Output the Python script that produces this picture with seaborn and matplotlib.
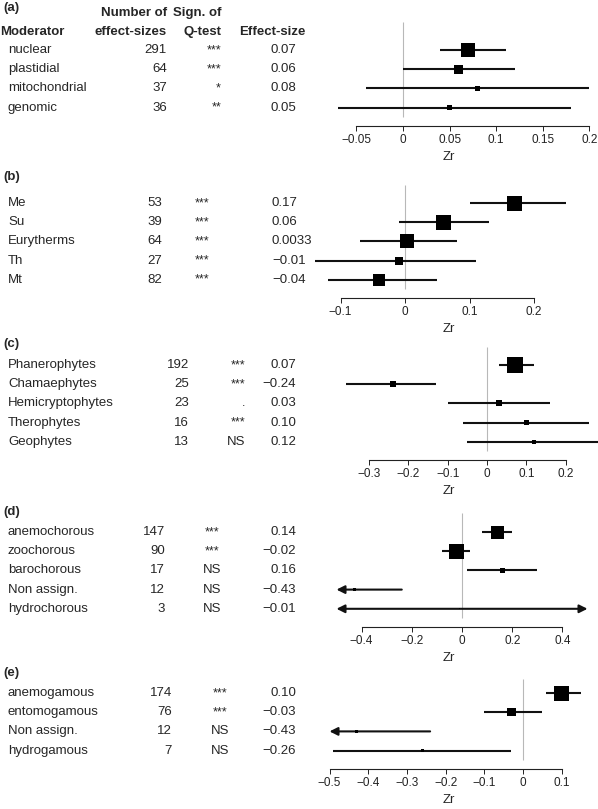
import numpy as np
import pandas as pd
import matplotlib
matplotlib.use('Agg')
import matplotlib.pyplot as plt
import matplotlib.transforms as mtransforms
import seaborn as sns

# (a) genome
mod_a = ['nuclear', 'plastidial', 'mitochondrial', 'genomic']
n_a = [291, 64, 37, 36]
sig_a = ['***', '***', '*', '**']
es_a = [0.07, 0.06, 0.08, 0.05]
eslab_a = ['0.07', '0.06', '0.08', '0.05']
lo_a = [0.04, 0.00, -0.04, -0.07]
hi_a = [0.11, 0.12, 0.20, 0.18]
w_a = [14, 9, 5, 5]

# (b) thermal groups
mod_b = ['Me', 'Su', 'Eurytherms', 'Th', 'Mt']
n_b = [53, 39, 64, 27, 82]
sig_b = ['***', '***', '***', '***', '***']
es_b = [0.17, 0.06, 0.0033, -0.01, -0.04]
eslab_b = ['0.17', '0.06', '0.0033', '−0.01', '−0.04']
lo_b = [0.10, -0.01, -0.07, -0.14, -0.12]
hi_b = [0.25, 0.13, 0.08, 0.11, 0.05]
w_b = [15, 15, 14, 8, 12]

# (c) life forms
mod_c = ['Phanerophytes', 'Chamaephytes', 'Hemicryptophytes', 'Therophytes', 'Geophytes']
n_c = [192, 25, 23, 16, 13]
sig_c = ['***', '***', '.', '***', 'NS']
es_c = [0.07, -0.24, 0.03, 0.10, 0.12]
eslab_c = ['0.07', '−0.24', '0.03', '0.10', '0.12']
lo_c = [0.03, -0.36, -0.10, -0.06, -0.05]
hi_c = [0.12, -0.13, 0.16, 0.26, 0.30]
w_c = [16, 6, 6, 5, 4.5]

# (d) dispersal
mod_d = ['anemochorous', 'zoochorous', 'barochorous', 'Non assign.', 'hydrochorous']
n_d = [147, 90, 17, 12, 3]
sig_d = ['***', '***', 'NS', 'NS', 'NS']
es_d = [0.14, -0.02, 0.16, -0.43, -0.01]
eslab_d = ['0.14', '−0.02', '0.16', '−0.43', '−0.01']
lo_d = [0.08, -0.08, 0.02, -0.70, -1.20]
hi_d = [0.20, 0.03, 0.30, -0.24, 1.20]
w_d = [13, 15, 5, 3, 1]

# (e) pollination
mod_e = ['anemogamous', 'entomogamous', 'Non assign.', 'hydrogamous']
n_e = [174, 76, 12, 7]
sig_e = ['***', '***', 'NS', 'NS']
es_e = [0.10, -0.03, -0.43, -0.26]
eslab_e = ['0.10', '−0.03', '−0.43', '−0.26']
lo_e = [0.06, -0.10, -0.70, -0.49]
hi_e = [0.15, 0.05, -0.24, -0.03]
w_e = [15, 8.5, 3, 2.5]

W, H = 598, 809
SP = 19.2  # row spacing in px

sns.set_theme(style='ticks')
plt.rcParams['font.family'] = ['Liberation Sans', 'DejaVu Sans']
plt.rcParams['font.size'] = 9.5


def fx(px):
    return px / W


def fy(py):
    return 1 - py / H


def mlab(v):
    s = f'{v:g}'
    return s.replace('-', '−')


def draw_panel(fig, tag, mods, ns, sigs, es, eslab, lo, hi, w, lay):
    k = len(mods)
    y0 = lay['y0']
    top_px = y0 - 1.6 * SP
    bot_px = y0 + (k - 1 + 0.95) * SP
    ax = fig.add_axes([fx(300), fy(bot_px), fx(598) - fx(300), (bot_px - top_px) / H])
    ax.patch.set_alpha(0)
    z, sc = lay['zero'], lay['scale']
    ax.set_xlim((300 - z) / sc, (598 - z) / sc)
    ax.set_ylim(k - 1 + 0.95, -1.6)

    ax.vlines(0, lay['vtop'], k - 1 + 0.5, color='#b8b8b8', lw=0.8, zorder=1)

    amin, amax = lay['alim']
    for i in range(k):
        l, h = lo[i], hi[i]
        left_arrow = amin is not None and l < amin
        right_arrow = amax is not None and h > amax
        if left_arrow or right_arrow:
            l2 = max(l, amin) if amin is not None else l
            h2 = min(h, amax) if amax is not None else h
            style = '<|-|>' if (left_arrow and right_arrow) else '-|>'
            if left_arrow and not right_arrow:
                xy, xyt = (l2, i), (h2, i)
            else:
                xy, xyt = (h2, i), (l2, i)
            ax.annotate('', xy=xy, xytext=xyt, annotation_clip=False,
                        arrowprops=dict(arrowstyle=style, lw=1.5, color='#111111',
                                        mutation_scale=12, shrinkA=0, shrinkB=0))
        else:
            ax.hlines(i, l, h, color='#111111', lw=1.5, zorder=2)

    df = pd.DataFrame({'es': es, 'row': np.arange(k), 'w': w})
    sns.scatterplot(data=df, x='es', y='row', marker='s',
                    s=((df['w'] * 0.72) ** 2).to_numpy(), color='black',
                    linewidth=0, legend=False, ax=ax, zorder=3, clip_on=False)

    ticks = lay['ticks']
    ax.set_xticks(ticks)
    ax.set_xticklabels([mlab(t) for t in ticks], fontsize=8.5)
    ax.set_yticks([])
    ax.set_ylabel('')
    ax.set_xlabel('Zr', fontsize=9.5, labelpad=4)
    sns.despine(ax=ax, left=True)
    ax.spines['bottom'].set_bounds(ticks[0], ticks[-1])
    ax.spines['bottom'].set_linewidth(0.8)
    ax.spines['bottom'].set_color('#222222')
    ax.tick_params(axis='x', direction='out', length=3.6, width=0.7,
                   pad=2, colors='#222222')

    tr = mtransforms.blended_transform_factory(fig.transFigure, ax.transData)
    cols = lay['cols']
    for i in range(k):
        ax.text(fx(8), i, mods[i], transform=tr, ha='left', va='center', fontsize=9.5)
        ax.text(fx(cols[0][0]), i, str(ns[i]), transform=tr, ha=cols[0][1],
                va='center', fontsize=9.5)
        ax.text(fx(cols[1][0]), i, sigs[i], transform=tr, ha=cols[1][1],
                va='center', fontsize=9.5 if sigs[i] == 'NS' else 9)
        ax.text(fx(cols[2][0]), i, eslab[i], transform=tr, ha=cols[2][1],
                va='center', fontsize=9.5)

    fig.text(fx(3), fy(lay['tag_y']), tag, fontsize=9.5, weight='bold',
             ha='left', va='center')
    return ax


fig = plt.figure(figsize=(W / 100, H / 100), dpi=100)

lay_a = dict(y0=50, tag_y=8, zero=403, scale=932, vtop=-1.45,
             ticks=[-0.05, 0, 0.05, 0.1, 0.15, 0.2], alim=(None, None),
             cols=[(167, 'right'), (221, 'right'), (296, 'right')])
lay_b = dict(y0=203, tag_y=177, zero=405, scale=645, vtop=-0.95,
             ticks=[-0.1, 0, 0.1, 0.2], alim=(None, None),
             cols=[(147, 'left'), (195, 'left'), (272, 'left')])
lay_c = dict(y0=365, tag_y=344, zero=487, scale=393, vtop=-0.95,
             ticks=[-0.3, -0.2, -0.1, 0, 0.1, 0.2], alim=(None, None),
             cols=[(189, 'right'), (245, 'right'), (296, 'right')])
lay_d = dict(y0=532, tag_y=512, zero=462, scale=251, vtop=-1.0,
             ticks=[-0.4, -0.2, 0, 0.2, 0.4], alim=(-0.5, 0.5),
             cols=[(165, 'right'), (212, 'center'), (296, 'right')])
lay_e = dict(y0=693, tag_y=673, zero=523, scale=387, vtop=-0.75,
             ticks=[-0.5, -0.4, -0.3, -0.2, -0.1, 0, 0.1], alim=(-0.5, 0.2),
             cols=[(172, 'right'), (220, 'center'), (296, 'right')])

draw_panel(fig, '(a)', mod_a, n_a, sig_a, es_a, eslab_a, lo_a, hi_a, w_a, lay_a)
draw_panel(fig, '(b)', mod_b, n_b, sig_b, es_b, eslab_b, lo_b, hi_b, w_b, lay_b)
draw_panel(fig, '(c)', mod_c, n_c, sig_c, es_c, eslab_c, lo_c, hi_c, w_c, lay_c)
draw_panel(fig, '(d)', mod_d, n_d, sig_d, es_d, eslab_d, lo_d, hi_d, w_d, lay_d)
draw_panel(fig, '(e)', mod_e, n_e, sig_e, es_e, eslab_e, lo_e, hi_e, w_e, lay_e)

# column headers for panel (a)
hdr = dict(fontsize=9.5, weight='bold', va='center')
fig.text(fx(0), fy(32), 'Moderator', ha='left', **hdr)
fig.text(fx(167), fy(13), 'Number of', ha='right', **hdr)
fig.text(fx(167), fy(32), 'effect-sizes', ha='right', **hdr)
fig.text(fx(222), fy(13), 'Sign. of', ha='right', **hdr)
fig.text(fx(222), fy(32), 'Q-test', ha='right', **hdr)
fig.text(fx(305), fy(32), 'Effect-size', ha='right', **hdr)

fig.savefig('out.png', dpi=100)
